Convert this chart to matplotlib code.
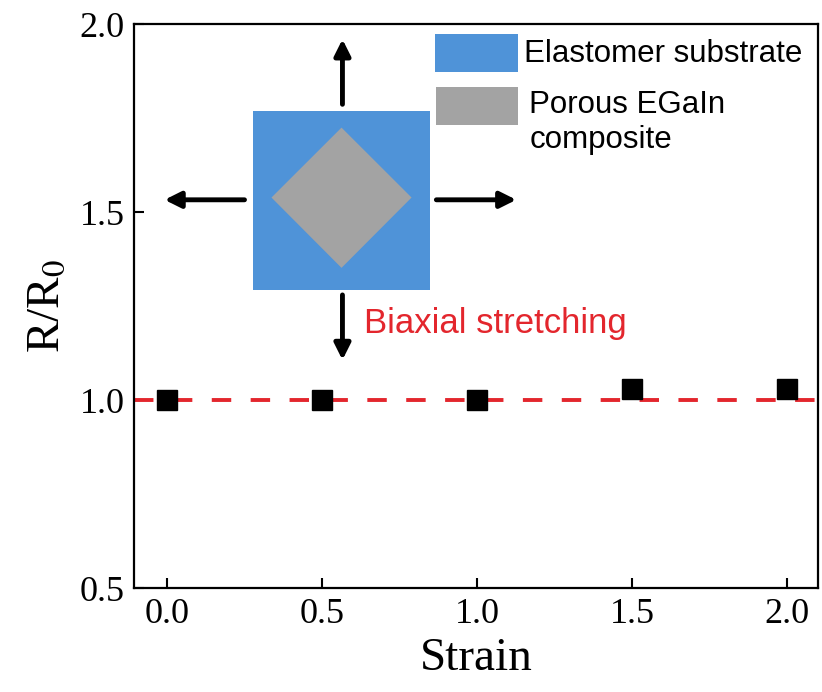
import matplotlib
matplotlib.use('Agg')
import matplotlib.pyplot as plt
from matplotlib.patches import Rectangle, Polygon

# Data
strain = [0.0, 0.5, 1.0, 1.5, 2.0]
r_ratio = [1.00, 1.00, 1.00, 1.03, 1.03]
x_ticks = [0.0, 0.5, 1.0, 1.5, 2.0]
y_ticks = [0.5, 1.0, 1.5, 2.0]

blue = '#4f93d8'
grey = '#a3a3a3'
red = '#e3262d'

plt.rcParams['font.family'] = 'serif'
plt.rcParams['font.serif'] = ['Liberation Serif', 'DejaVu Serif']
plt.rcParams['mathtext.fontset'] = 'stix'

fig = plt.figure(figsize=(8.22, 6.92), dpi=100)
ax = fig.add_axes([0.1636, 0.150, 0.8314, 0.815])

ax.axhline(1.0, color=red, lw=2.8, ls=(0, (5, 5)), zorder=2)
ax.plot(strain, r_ratio, 's', color='black', ms=14, zorder=3)

ax.set_xlim(-0.105, 2.1)
ax.set_ylim(0.5, 2.0)
ax.set_xticks(x_ticks)
ax.set_yticks(y_ticks)
ax.set_xticklabels([f'{v:.1f}' for v in x_ticks])
ax.set_yticklabels([f'{v:.1f}' for v in y_ticks])
ax.tick_params(direction='in', length=7, width=1.5, labelsize=26, pad=7)
for s in ax.spines.values():
    s.set_linewidth(1.6)

ax.set_xlabel('Strain', fontsize=34, labelpad=5)
ax.set_ylabel(r'R/R$_0$', fontsize=34, labelpad=8)

# inset sketch: substrate with porous composite, stretched biaxially
ax.add_patch(Rectangle((0.276, 1.293), 0.571, 0.475, color=blue, lw=0, zorder=1))
ax.add_patch(Polygon([(0.337, 1.539), (0.563, 1.725), (0.789, 1.539), (0.563, 1.352)],
                     closed=True, color=grey, lw=0, zorder=1))

arrow = dict(arrowstyle='-|>', lw=3.5, color='black', mutation_scale=24,
             shrinkA=0, shrinkB=0)
ax.annotate('', xy=(0.566, 1.96), xytext=(0.566, 1.787), arrowprops=arrow)
ax.annotate('', xy=(0.566, 1.107), xytext=(0.566, 1.28), arrowprops=arrow)
ax.annotate('', xy=(-0.008, 1.533), xytext=(0.25, 1.533), arrowprops=arrow)
ax.annotate('', xy=(1.127, 1.533), xytext=(0.869, 1.533), arrowprops=arrow)

# legend-like boxes
ax.add_patch(Rectangle((0.866, 1.872), 0.265, 0.101, color=blue, lw=0))
ax.add_patch(Rectangle((0.869, 1.733), 0.262, 0.099, color=grey, lw=0))
sans = ['Liberation Sans', 'DejaVu Sans']
ax.text(1.153, 1.92, 'Elastomer substrate', family=sans, fontsize=22.5, va='center')
ax.text(1.169, 1.739, 'Porous EGaIn\ncomposite', family=sans, fontsize=22.5,
        va='center', linespacing=1.2)
ax.text(0.635, 1.205, 'Biaxial stretching', family=sans, fontsize=25,
        color=red, va='center')

fig.savefig('out.png', dpi=100)
